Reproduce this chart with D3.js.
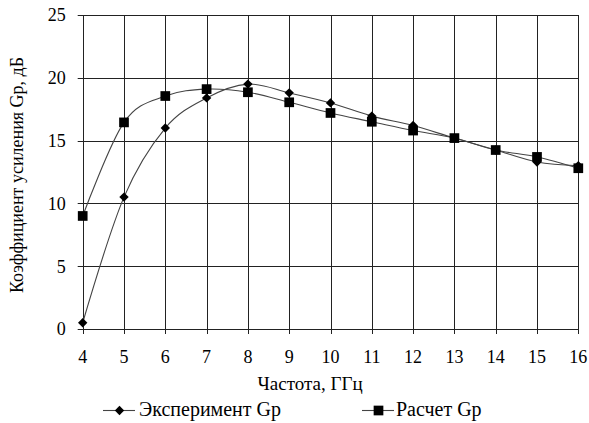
<!DOCTYPE html>
<html>
<head>
<meta charset="utf-8">
<script src="https://cdn.jsdelivr.net/npm/d3@7"></script>
<style>
  body { margin: 0; background: #fff; }
  svg text { font-family: 'Liberation Serif' !important; }
</style>
</head>
<body>
<div id="chart"></div>
<script>
/* Gain vs frequency: experiment vs calculation */

const freq = [4, 5, 6, 7, 8, 9, 10, 11, 12, 13, 14, 15, 16];
const experiment = [0.5, 10.5, 16.0, 18.4, 19.5, 18.8, 18.0, 16.95, 16.2, 15.2, 14.25, 13.3, 13.0];
const calc = [9.0, 16.45, 18.55, 19.1, 18.85, 18.05, 17.2, 16.5, 15.8, 15.2, 14.25, 13.7, 12.8];
const yTicks = [0, 5, 10, 15, 20, 25];
const seriesNames = ["Эксперимент Gp", "Расчет Gp"];

const width = 589,
    height = 423,
    margin = ({ top: 15, right: 10.7, bottom: 94, left: 82.7 });

const font = "'Liberation Serif'",
    tickSize = 18,
    labelSize = 19,
    legendSize = 20;

const svg = d3.select("#chart")
    .append("svg")
    .attr("width", width)
    .attr("height", height)
    .attr("viewBox", [0, 0, width, height]);

let x = d3.scaleLinear()
    .domain([4, 16])
    .range([margin.left, width - margin.right]);

let y = d3.scaleLinear()
    .domain([0, 25])
    .range([height - margin.bottom, margin.top]);

// grid
svg.append("g")
    .selectAll("line")
    .data(freq)
    .join("line")
    .attr("x1", d => Math.round(x(d)) + 0.5)
    .attr("x2", d => Math.round(x(d)) + 0.5)
    .attr("y1", y(25))
    .attr("y2", y(0) + 5)
    .attr("stroke", "#222")
    .attr("stroke-width", 1);

svg.append("g")
    .selectAll("line")
    .data(yTicks)
    .join("line")
    .attr("x1", x(4) - 5)
    .attr("x2", x(16))
    .attr("y1", d => Math.round(y(d)) + 0.5)
    .attr("y2", d => Math.round(y(d)) + 0.5)
    .attr("stroke", "#222")
    .attr("stroke-width", 1);

// tick labels
svg.append("g")
    .selectAll("text")
    .data(freq)
    .join("text")
    .attr("x", d => x(d))
    .attr("y", 363)
    .attr("text-anchor", "middle")
    .attr("font-family", font)
    .style("font-size", tickSize + "px")
    .text(d => d);

svg.append("g")
    .selectAll("text")
    .data(yTicks)
    .join("text")
    .attr("x", margin.left - 17)
    .attr("y", d => y(d))
    .attr("dy", "0.35em")
    .attr("text-anchor", "end")
    .attr("font-family", font)
    .style("font-size", tickSize + "px")
    .text(d => d);

svg.append("text")
    .attr("x", 310)
    .attr("y", 390)
    .attr("text-anchor", "middle")
    .attr("font-family", font)
    .style("font-size", labelSize + "px")
    .text("Частота, ГГц");

svg.append("text")
    .attr("transform", `translate(23,175) rotate(-90)`)
    .attr("text-anchor", "middle")
    .attr("font-family", font)
    .style("font-size", "18px")
    .text("Коэффициент усиления Gp, дБ");

// smoothed lines like the spreadsheet
let line = d3.line()
    .x((d, i) => x(freq[i]))
    .y(d => y(d))
    .curve(d3.curveCardinal.tension(0));

svg.append("path")
    .datum(experiment)
    .attr("d", line)
    .attr("fill", "none")
    .attr("stroke", "#444")
    .attr("stroke-width", 1.1);

svg.append("path")
    .datum(calc)
    .attr("d", line)
    .attr("fill", "none")
    .attr("stroke", "#444")
    .attr("stroke-width", 1.1);

const diamond = d3.symbol().type(d3.symbolDiamond2).size(56);
const square = d3.symbol().type(d3.symbolSquare2).size(120);

svg.append("g")
    .selectAll("path")
    .data(experiment)
    .join("path")
    .attr("transform", (d, i) => `translate(${x(freq[i])},${y(d)})`)
    .attr("d", diamond)
    .attr("fill", "#000");

svg.append("g")
    .selectAll("path")
    .data(calc)
    .join("path")
    .attr("transform", (d, i) => `translate(${x(freq[i])},${y(d)})`)
    .attr("d", square)
    .attr("fill", "#000");

// legend
const legend = [
    { name: seriesNames[0], x: 103, tx: 139, sym: diamond },
    { name: seriesNames[1], x: 362, tx: 396, sym: square }
];
const ly = 410.5;
const lg = svg.append("g")
    .selectAll("g")
    .data(legend)
    .join("g");

lg.append("line")
    .attr("x1", d => d.x)
    .attr("x2", d => d.x + 32)
    .attr("y1", ly)
    .attr("y2", ly)
    .attr("stroke", "#444")
    .attr("stroke-width", 1.1);

lg.append("path")
    .attr("transform", d => `translate(${d.x + 16.5},${ly})`)
    .attr("d", d => d.sym())
    .attr("fill", "#000");

lg.append("text")
    .attr("x", d => d.tx)
    .attr("y", 416)
    .attr("font-family", font)
    .style("font-size", legendSize + "px")
    .text(d => d.name);
</script>
</body>
</html>
